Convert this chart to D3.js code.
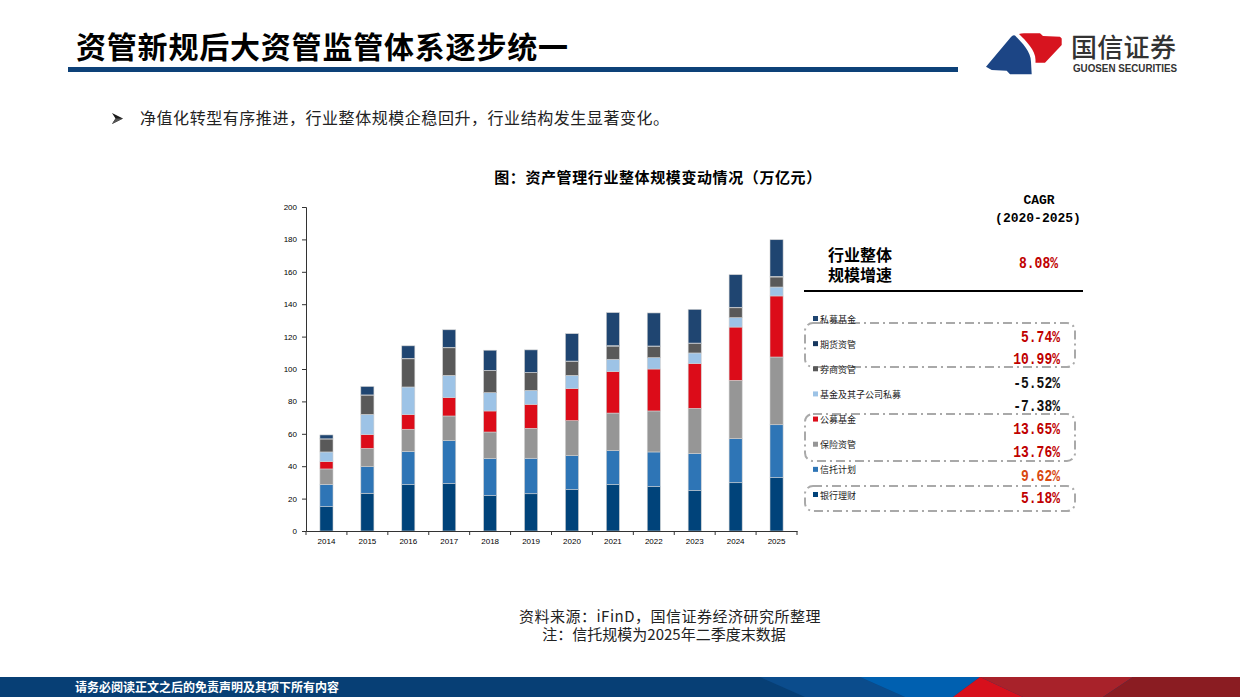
<!DOCTYPE html>
<html><head><meta charset="utf-8">
<script src="https://cdn.jsdelivr.net/npm/d3@7"></script>
<style>body{margin:0;background:#fff;} svg{display:block;}</style>
</head><body>
<svg id="c" width="1240" height="697"></svg>
<script>
// ---------------- data ----------------
const years = ["2014","2015","2016","2017","2018","2019","2020","2021","2022","2023","2024","2025"];
const bankWMP      = [15.0, 23.3, 28.6, 29.2, 21.8, 23.0, 25.5, 28.6, 27.4, 24.9, 29.8, 32.9];
const trustPlan    = [13.8, 16.4, 20.6, 26.6, 22.9, 21.9, 21.0, 21.0, 21.4, 23.0, 27.2, 32.7];
const insuranceAM  = [ 9.5, 11.3, 13.6, 15.2, 16.4, 18.5, 21.6, 23.2, 25.3, 27.8, 36.0, 41.8];
const publicFund   = [ 4.5,  8.5,  9.0, 11.3, 13.0, 14.8, 19.8, 25.6, 25.9, 27.6, 32.9, 37.7];
const fundSubsid   = [ 6.0, 12.5, 17.1, 13.8, 11.3,  8.6,  8.2,  7.6,  7.0,  6.6,  5.8,  5.5];
const brokerAM     = [ 8.0, 11.9, 17.4, 17.0, 13.7, 11.0,  8.6,  8.1,  6.9,  5.8,  6.1,  6.2];
const futuresAM    = [ 0.1,  0.1,  0.3,  0.3,  0.1,  0.1,  0.2,  0.3,  0.3,  0.3,  0.3,  0.4];
const privateFund  = [ 2.4,  5.2,  7.7, 10.8, 12.4, 13.9, 16.9, 20.4, 20.4, 20.8, 20.1, 22.6];

const seriesNames  = ["银行理财","信托计划","保险资管","公募基金","基金及其子公司私募","券商资管","期货资管","私募基金"];
const seriesValues = [bankWMP, trustPlan, insuranceAM, publicFund, fundSubsid, brokerAM, futuresAM, privateFund];
const seriesColors = ["#00437a","#2e75b6","#969696","#dc0c19","#9dc3e6","#595959","#17375e","#1f4571"];
const yTicks = [0,20,40,60,80,100,120,140,160,180,200];

const legendOrder = ["私募基金","期货资管","券商资管","基金及其子公司私募","公募基金","保险资管","信托计划","银行理财"];
const cagrLabels  = ["5.74%","10.99%","-5.52%","-7.38%","13.65%","13.76%","9.62%","5.18%"];
const cagrColors  = ["#c00000","#c00000","#111","#111","#c00000","#c00000","#d9480f","#c00000"];
const totalCagr = "8.08%";

// ---------------- page ----------------
const svg = d3.select("#c");
const CJK = "'Noto Sans CJK SC','Noto Sans',sans-serif";
const MONO = "'Liberation Mono','DejaVu Sans Mono',monospace";
const ARIAL = "'Liberation Sans',Arial,sans-serif";

// title
svg.append("text").attr("x",76).attr("y",58).attr("font-family",CJK).attr("font-weight",700)
  .attr("font-size",30).attr("letter-spacing",0.8).attr("fill","#000").text("资管新规后大资管监管体系逐步统一");
svg.append("rect").attr("x",68).attr("y",67).attr("width",890).attr("height",5).attr("fill","#0d4178");

// logo
const lg = svg.append("g");
lg.append("path").attr("fill","#1c4585")
  .attr("d","M986,66.7 L1011,37 Q1013,34.5 1015,35.5 C1021,42 1031,51 1031,62 L1031.7,74.3 L1010,74.3 L1006.7,70.7 L991.7,70 Z");
lg.append("path").attr("fill","#d7141f")
  .attr("d","M1019,34 Q1021,33.3 1024,33.3 L1040,33.3 L1043,36 L1060,36.7 L1061.7,38.5 L1061.7,45 L1045,62.7 L1035.5,62.7 L1035.5,60 C1035.5,50 1026,41 1019,34 Z");
svg.append("text").attr("x",1071).attr("y",57).attr("font-family",CJK).attr("font-weight",500)
  .attr("font-size",26).attr("fill","#333").attr("letter-spacing",0.3).text("国信证券");
svg.append("text").attr("x",1073).attr("y",72).attr("font-family",ARIAL).attr("font-weight",700)
  .attr("font-size",10.5).attr("fill","#333").attr("textLength",104).attr("lengthAdjust","spacingAndGlyphs")
  .text("GUOSEN SECURITIES");

// bullet line
svg.append("polygon").attr("points","112,113 123,118.5 112,124 115.5,118.5").attr("fill","#1a1a1a");
svg.append("polygon").attr("points","112,124 123,118.5 115.5,118.5").attr("fill","#555");
svg.append("text").attr("x",140).attr("y",124).attr("font-family",CJK).attr("font-size",16)
  .attr("letter-spacing",0.55).attr("fill","#222").text("净值化转型有序推进，行业整体规模企稳回升，行业结构发生显著变化。");

// chart title
svg.append("text").attr("x",658).attr("y",183).attr("text-anchor","middle").attr("font-family",CJK)
  .attr("font-weight",700).attr("font-size",15).attr("letter-spacing",0.6).attr("fill","#000")
  .text("图：资产管理行业整体规模变动情况（万亿元）");

// ---------------- chart ----------------
const x0 = 306, x1 = 797, yTop = 207, yBot = 531;
const y = d3.scaleLinear().domain([0,200]).range([yBot,yTop]);
const x = d3.scaleBand().domain(years).range([x0,x1]).paddingInner(0.68).paddingOuter(0.34);
const xCat = d3.scaleBand().domain(years).range([x0,x1]).padding(0);

const rows = years.map((yr,i)=>{const r={year:yr}; seriesNames.forEach((s,k)=>r[s]=seriesValues[k][i]); return r;});
const stacked = d3.stack().keys(seriesNames)(rows);

const g = svg.append("g");
g.selectAll("g.s").data(stacked).join("g").attr("fill",(d,i)=>seriesColors[i])
  .selectAll("rect").data(d=>d).join("rect")
  .attr("x",d=>x(d.data.year)).attr("width",x.bandwidth())
  .attr("y",d=>y(d[1])).attr("height",d=>Math.max(0,y(d[0])-y(d[1])))
  .attr("stroke","#d0d0d0").attr("stroke-width",0.6);

// y axis
const yAx = svg.append("g").attr("transform",`translate(${x0},0)`)
  .call(d3.axisLeft(y).tickValues(yTicks).tickSize(4).tickPadding(5));
yAx.select(".domain").attr("stroke","#333");
yAx.selectAll(".tick line").attr("stroke","#333");
yAx.selectAll("text").attr("font-family",ARIAL).attr("font-size",8).attr("fill","#000");

// x axis
const xAx = svg.append("g").attr("transform",`translate(0,${yBot})`)
  .call(d3.axisBottom(xCat).tickSize(0).tickPadding(7));
xAx.select(".domain").attr("stroke","#333");
xAx.selectAll("text").attr("font-family",ARIAL).attr("font-size",8).attr("fill","#000");
const bounds = years.map(v=>xCat(v)).concat([x1]);
xAx.selectAll("line.b").data(bounds).join("line").attr("class","b")
  .attr("x1",d=>d).attr("x2",d=>d).attr("y1",0).attr("y2",4).attr("stroke","#333");

// ---------------- right panel ----------------
svg.append("text").attr("x",1039).attr("y",204).attr("text-anchor","middle").attr("font-family",MONO)
  .attr("font-weight",700).attr("font-size",13).attr("fill","#000").text("CAGR");
svg.append("text").attr("x",1038).attr("y",222).attr("text-anchor","middle").attr("font-family",MONO)
  .attr("font-weight",700).attr("font-size",13).attr("fill","#000").text("(2020-2025)");
svg.append("text").attr("x",828).attr("y",261).attr("font-family",CJK).attr("font-weight",700)
  .attr("font-size",16).attr("fill","#000").text("行业整体");
svg.append("text").attr("x",828).attr("y",281).attr("font-family",CJK).attr("font-weight",700)
  .attr("font-size",16).attr("fill","#000").text("规模增速");
svg.append("text").attr("transform","translate(1058,268) scale(1,1.25)").attr("text-anchor","end")
  .attr("font-family",MONO).attr("font-weight",700).attr("font-size",13).attr("fill","#c00000").text(totalCagr);
svg.append("line").attr("x1",804).attr("x2",1083).attr("y1",291).attr("y2",291)
  .attr("stroke","#000").attr("stroke-width",2.2);

// dashed boxes
const boxes = [[805,323,270,44],[805,414,270,47],[805,486,270,25]];
svg.selectAll("rect.box").data(boxes).join("rect").attr("class","box")
  .attr("x",d=>d[0]).attr("y",d=>d[1]).attr("width",d=>d[2]).attr("height",d=>d[3])
  .attr("rx",8).attr("fill","none").attr("stroke","#a9a9a9").attr("stroke-width",2)
  .attr("stroke-dasharray","9,4,2,4");

// legend
const legY = d3.scalePoint().domain(legendOrder).range([319,495]);
const leg = svg.selectAll("g.leg").data(legendOrder).join("g").attr("class","leg")
  .attr("transform",d=>`translate(813,${legY(d)})`);
leg.append("rect").attr("x",0).attr("y",-3).attr("width",5).attr("height",5)
  .attr("fill",d=>seriesColors[seriesNames.indexOf(d)]);
leg.append("text").attr("x",7).attr("y",3.5).attr("font-family",CJK).attr("font-size",9)
  .attr("fill","#222").text(d=>d);

// cagr values
const cagrY = [342, 364, 388, 411, 434, 457, 481, 503];
svg.selectAll("text.cagr").data(cagrLabels).join("text").attr("class","cagr")
  .attr("transform",(d,i)=>`translate(1060,${cagrY[i]}) scale(1,1.25)`).attr("text-anchor","end")
  .attr("font-family",MONO).attr("font-weight",700).attr("font-size",13)
  .attr("fill",(d,i)=>cagrColors[i]).text(d=>d);

// source notes
svg.append("text").attr("x",670).attr("y",622).attr("text-anchor","middle").attr("font-family",CJK)
  .attr("font-size",15).attr("letter-spacing",0.5).attr("fill","#222").text("资料来源：iFinD，国信证券经济研究所整理");
svg.append("text").attr("x",664).attr("y",640).attr("text-anchor","middle").attr("font-family",CJK)
  .attr("font-size",15).attr("fill","#222").text("注：信托规模为2025年二季度末数据");

// footer
svg.append("rect").attr("x",0).attr("y",677).attr("width",1240).attr("height",20).attr("fill","#073f75");
svg.append("polygon").attr("points","760,677 860,677 905,697 805,697").attr("fill","#0b4c8c");
svg.append("polygon").attr("points","860,677 980,677 953,697 905,697").attr("fill","#0060b0");
svg.append("polygon").attr("points","980,677 1133,677 1103,697 1023,697").attr("fill","#a8222a");
svg.append("polygon").attr("points","980,677 953,697 1023,697").attr("fill","#d7101c");
svg.append("polygon").attr("points","1133,677 1240,677 1240,697 1103,697").attr("fill","#8a1c22");
svg.append("text").attr("x",75).attr("y",692).attr("font-family",CJK).attr("font-weight",700)
  .attr("font-size",12).attr("fill","#fff").text("请务必阅读正文之后的免责声明及其项下所有内容");
</script>
</body></html>
